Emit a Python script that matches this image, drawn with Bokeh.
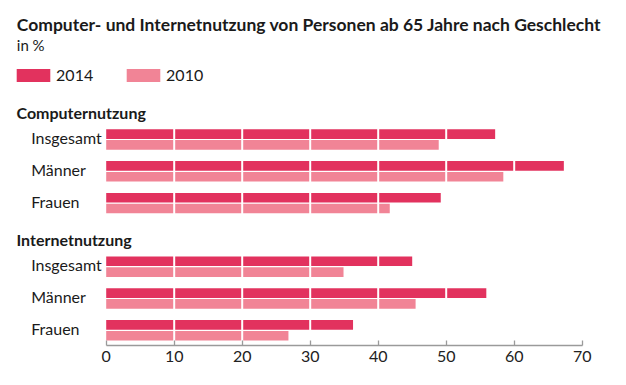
from bokeh.plotting import figure
from bokeh.models import Range1d, FixedTicker, Legend, LegendItem, ColumnDataSource
from bokeh.core.properties import value
from bokeh.embed import file_html
from bokeh.resources import INLINE

# ---------------- data ----------------
title_text = "Computer- und Internetnutzung von Personen ab 65 Jahre nach Geschlecht"
subtitle_text = "in %"
groups = ["Computernutzung", "Internetnutzung"]
categories = ["Insgesamt", "Männer", "Frauen"]
years = ["2014", "2010"]
computer_2014 = [57.2, 67.3, 49.2]
computer_2010 = [48.9, 58.4, 41.7]
internet_2014 = [45.0, 55.9, 36.3]
internet_2010 = [34.9, 45.5, 26.8]
x_ticks = [0, 10, 20, 30, 40, 50, 60, 70]
separator_ticks = [10, 20, 30, 40, 50, 60]

# ---------------- styling / layout ----------------
C2014 = "#E2325E"
C2010 = "#F18496"
TEXT = "#1a1a1a"
FONT = "Lato"

W, H = 610, 369
BOTTOM = 24
FRAME_H = H - BOTTOM
X_ZERO_PX = 105.7
PX_PER_UNIT = 6.8
ROW0 = 139.0
PITCH = 31.8
BAR_H = 9.6
BAR_OFF = 5.4


def tx(px):
    """screen x (canvas px) -> data x, for text placement"""
    return (px - X_ZERO_PX) / PX_PER_UNIT


p = figure(width=W, height=H,
           x_range=Range1d(tx(0), tx(W)),
           y_range=Range1d(FRAME_H, 0),
           output_backend="svg", toolbar_location=None,
           y_axis_location=None,
           min_border_left=0, min_border_right=0,
           min_border_top=0, min_border_bottom=BOTTOM)
p.outline_line_color = None
p.grid.visible = False
p.background_fill_color = "white"
p.border_fill_color = "white"

# rows
row_y, row_lbl, v14, v10 = [], [], [], []
series = [(computer_2014, computer_2010), (internet_2014, internet_2010)]
for g, (a, b) in enumerate(series):
    for i, cat in enumerate(categories):
        row_y.append(ROW0 + PITCH * (g * 4 + i))
        row_lbl.append(cat)
        v14.append(a[i])
        v10.append(b[i])

src14 = ColumnDataSource(dict(y=[y - BAR_OFF for y in row_y], right=v14))
src10 = ColumnDataSource(dict(y=[y + BAR_OFF for y in row_y], right=v10))
r14 = p.hbar(y="y", left=0, right="right", height=BAR_H, source=src14,
             fill_color=C2014, line_color=None)
r10 = p.hbar(y="y", left=0, right="right", height=BAR_H, source=src10,
             fill_color=C2010, line_color=None)

# white separators over bars
sx, sy0, sy1 = [], [], []
for g in range(len(groups)):
    top = ROW0 + PITCH * (g * 4) - BAR_OFF - BAR_H / 2 - 1
    bot = ROW0 + PITCH * (g * 4 + 2) + BAR_OFF + BAR_H / 2 + 1
    for t in separator_ticks:
        sx.append(t)
        sy0.append(top)
        sy1.append(bot)
p.segment(x0=sx, x1=sx, y0=sy0, y1=sy1, line_color="white", line_width=2)

# row labels
p.text(x=[tx(30.7)] * len(row_y), y=[y - 2 for y in row_y], text=row_lbl,
       text_font=value(FONT), text_font_size="16px", text_color=TEXT,
       text_align="left", text_baseline="middle")

# group headers
p.text(x=[tx(16)] * 2, y=[ROW0 - 27, ROW0 + PITCH * 4 - 27], text=groups,
       text_font=value(FONT), text_font_size="16px", text_font_style="bold",
       text_color=TEXT, text_align="left", text_baseline="middle")

# title + subtitle
p.text(x=[tx(16.3)], y=[24], text=[title_text],
       text_font=value(FONT), text_font_size="17.5px", text_font_style="bold",
       text_color=TEXT, text_align="left", text_baseline="middle")
p.text(x=[tx(16.3)], y=[44.7], text=[subtitle_text],
       text_font=value(FONT), text_font_size="15px", text_color=TEXT,
       text_align="left", text_baseline="middle")

# legend
legend = Legend(items=[LegendItem(label=years[0], renderers=[r14]),
                       LegendItem(label=years[1], renderers=[r10])],
                location=(12.1, FRAME_H - 84.4), orientation="horizontal",
                glyph_width=42, glyph_height=16, label_standoff=2,
                label_width=56, label_height=16, spacing=10,
                padding=0, margin=0, border_line_color=None,
                background_fill_alpha=0,
                label_text_font=FONT, label_text_font_size="16px",
                label_text_color=TEXT)
p.add_layout(legend)

# axis
ax = p.xaxis[0]
ax.ticker = FixedTicker(ticks=x_ticks)
ax.bounds = (0, 70)
ax.axis_line_color = "#9a9a9a"
ax.axis_line_width = 1.3
ax.major_tick_line_color = "#9a9a9a"
ax.major_tick_line_width = 1.3
ax.major_tick_in = 5
ax.major_tick_out = 0
ax.minor_tick_line_color = None
ax.major_label_standoff = 5
ax.major_label_text_font = FONT
ax.major_label_text_font_size = "16px"
ax.major_label_text_color = "#222222"

open("out.html", "w").write(file_html(p, INLINE))
